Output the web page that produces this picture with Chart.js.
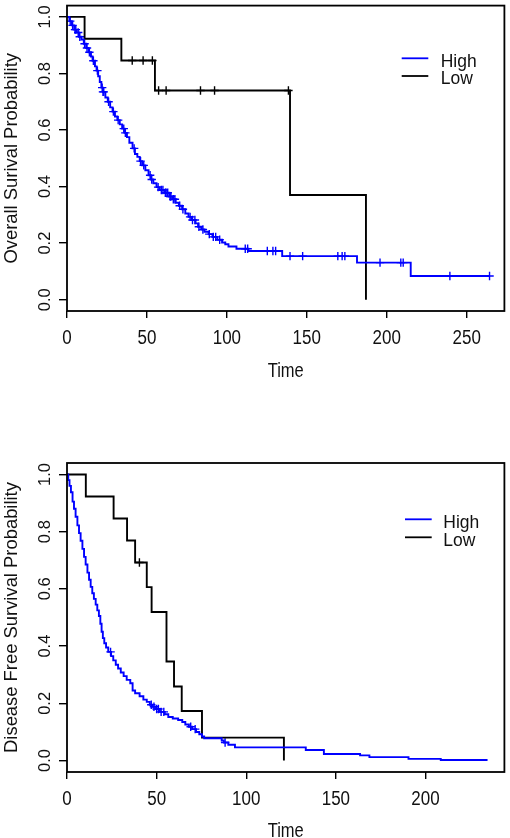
<!DOCTYPE html>
<html><head><meta charset="utf-8">
<script src="https://cdn.jsdelivr.net/npm/chart.js@4.4.1/dist/chart.umd.min.js"></script>
<style>
html,body{margin:0;padding:0;background:#fff;width:510px;height:838px;overflow:hidden}
#w1{position:absolute;left:0;top:0;width:510px;height:400px}
#w2{position:absolute;left:0;top:400px;width:510px;height:438px}
canvas{display:block}
</style></head><body>
<div id="w1"><canvas id="c1" width="510" height="400"></canvas></div>
<div id="w2"><canvas id="c2" width="510" height="438"></canvas></div>
<script>
// ---------- DATA ----------
const seriesNames = ['High', 'Low'];
const seriesColors = ['#0000ff', '#000000'];
const yTicks = [0, 0.2, 0.4, 0.6, 0.8, 1.0];
const yTickLabels = ['0.0', '0.2', '0.4', '0.6', '0.8', '1.0'];
const osXTicks = [0, 50, 100, 150, 200, 250];
const dfsXTicks = [0, 50, 100, 150, 200];
const xTitle = 'Time';
const osYTitle = 'Overall Surival Probability';
const dfsYTitle = 'Disease Free Survival Probability';

// Overall survival - High
const osHighTime = [0,1.5,3,4.5,6,7.5,9,10.5,12,13.5,15,16,17.5,18.5,19.5,20.5,21.5,22.5,24,25.5,27,28.5,30,31.5,33,34.5,36,37.5,39,41,42.5,44,45.5,47,49,51,52.5,54,56,58,61,64,66,68,70,72,74,76,78,80.4,82,84,86,88.6,91,94,97,99,101,106,113.4,134.6,181.4,215,264.3];
const osHighSurv = [1,0.985,0.97,0.955,0.945,0.93,0.92,0.905,0.89,0.875,0.86,0.845,0.825,0.81,0.79,0.77,0.75,0.735,0.715,0.70,0.68,0.665,0.648,0.635,0.62,0.605,0.59,0.575,0.555,0.535,0.515,0.505,0.49,0.475,0.458,0.44,0.425,0.412,0.398,0.388,0.378,0.365,0.355,0.343,0.332,0.32,0.305,0.293,0.282,0.27,0.258,0.248,0.24,0.232,0.222,0.212,0.202,0.196,0.188,0.18,0.172,0.154,0.131,0.084,0.084];
const osHighCensor = [2,3.5,5,5.5,7,8,11,12.5,14,16.5,19,22,22.5,23,26,29,32,35.5,36.5,42,46,48,52,53,57,59,60,61.5,62,63,64.5,65,66.5,67.5,70.5,72.5,77,78.5,80,82.5,85,89,91.5,93,95.5,111.5,113,125.3,128.8,130.5,139.5,147.4,169.4,172.1,173.8,195.8,208.8,210.3,239.5,264.3];
// Overall survival - Low
const osLowTime = [0,11,34,55,139.5,187];
const osLowSurv = [1,0.923,0.846,0.74,0.37,0];
const osLowCensor = [40.8,47.6,53.4,57.3,62,83.5,92.3,138.5];

// Disease free survival - High
const dfsHighTime = [0,0.7,1.4,2.2,3.1,3.9,4.8,5.8,6.7,7.6,8.6,9.5,10.4,11.4,12.3,13.2,14.1,15,16,16.9,17.8,18.6,19.3,20,20.8,21.8,23,24.6,25.8,27.2,28.5,30,31.6,33.3,35.3,36.6,38,40.5,42.6,44.5,46.2,47.5,49.8,51.8,54.5,56.5,59,62,64.3,66,68,69.8,72,73.8,75.3,76.5,86.3,87.5,90,93.7,133.2,143.3,163.5,168.7,190.5,208.5,234.6];
const dfsHighSurv = [1,0.98,0.96,0.938,0.905,0.88,0.852,0.822,0.795,0.768,0.74,0.712,0.685,0.657,0.632,0.607,0.585,0.565,0.545,0.525,0.505,0.478,0.45,0.428,0.41,0.395,0.38,0.365,0.35,0.335,0.322,0.308,0.295,0.282,0.27,0.245,0.235,0.225,0.213,0.205,0.195,0.188,0.18,0.17,0.162,0.152,0.147,0.142,0.135,0.126,0.118,0.11,0.1,0.092,0.084,0.078,0.07,0.063,0.055,0.046,0.037,0.023,0.018,0.012,0.006,0.002,0.002];
const dfsHighCensor = [24.3,47,48.5,50,51,52.5,54,69,71.5,88.2];
// Disease free survival - Low
const dfsLowTime = [0,10.5,26,33.5,38,44.5,47.2,55.5,59.7,64,75.3,121];
const dfsLowSurv = [1,0.923,0.846,0.769,0.692,0.606,0.519,0.346,0.259,0.173,0.08,0];
const dfsLowCensor = [40.4];

// ---------- HELPERS ----------
function pts(t, s) { return t.map((v, i) => ({x: v, y: s[i]})); }
function stepAt(t, s, x) { let v = s[0]; for (let i = 0; i < t.length; i++) { if (t[i] <= x) v = s[i]; } return v; }
function cens(t, s, c) { return c.map(x => ({x: x, y: stepAt(t, s, x)})); }
const FONT = 'Arial, "Liberation Sans", sans-serif';

function drawText(ctx, str, x, y, size, opt) {
  ctx.save();
  ctx.translate(x, y);
  if (opt.rot) ctx.rotate(-Math.PI / 2);
  ctx.scale(1, opt.sy || 1);
  ctx.font = size + 'px ' + FONT;
  ctx.fillStyle = '#111';
  ctx.textAlign = opt.align || 'center';
  ctx.textBaseline = 'alphabetic';
  ctx.fillText(str, 0, 0);
  ctx.restore();
}

function makeDecor(cfg) {
  return {
    id: 'decor',
    afterDraw(chart) {
      const ctx = chart.ctx, a = chart.chartArea;
      const xs = chart.scales.x, ys = chart.scales.y;
      ctx.save();
      ctx.strokeStyle = '#000';
      ctx.lineWidth = 1.8;
      ctx.strokeRect(a.left, a.top, a.right - a.left, a.bottom - a.top);
      ctx.restore();
      // x tick labels
      cfg.xTicks.forEach(v => drawText(ctx, String(v), xs.getPixelForValue(v), cfg.xLabBase, 17, {sy: 1.18}));
      // y tick labels (rotated)
      yTicks.forEach((v, i) => drawText(ctx, yTickLabels[i], 50, ys.getPixelForValue(v), 16.5, {rot: true}));
      // axis titles
      drawText(ctx, xTitle, (a.left + a.right) / 2, cfg.xTitleBase, 16.5, {sy: 1.22});
      drawText(ctx, cfg.yTitle, 16.5, (a.top + a.bottom) / 2, 18.4, {rot: true});
      // legend
      const L = cfg.legend;
      seriesNames.forEach((n, i) => {
        const ly = L.y0 + i * L.dy;
        ctx.save();
        ctx.strokeStyle = seriesColors[i];
        ctx.lineWidth = 1.8;
        ctx.beginPath(); ctx.moveTo(L.x0, ly); ctx.lineTo(L.x1, ly); ctx.stroke();
        ctx.restore();
        drawText(ctx, n, L.tx, ly + 8.3, 17.5, {align: 'left', sy: 1.05});
      });
    }
  };
}

function makeChart(id, d, cfg) {
  const gridOpt = (len) => ({drawOnChartArea: false, drawTicks: true, tickLength: len, color: '#000', lineWidth: 1.4});
  return new Chart(document.getElementById(id), {
    type: 'line',
    data: {
      datasets: [
        {label: seriesNames[0], data: pts(d.hT, d.hS), stepped: true, borderColor: seriesColors[0], borderWidth: 1.9, pointRadius: 0, fill: false},
        {label: seriesNames[1], data: pts(d.lT, d.lS), stepped: true, borderColor: seriesColors[1], borderWidth: 1.9, pointRadius: 0, fill: false},
        {label: seriesNames[0] + ' censored', data: cens(d.hT, d.hS, d.hC), showLine: false, pointStyle: 'cross', pointRadius: 4.2, pointBorderWidth: 1.4, pointBorderColor: seriesColors[0], pointBackgroundColor: seriesColors[0]},
        {label: seriesNames[1] + ' censored', data: cens(d.lT, d.lS, d.lC), showLine: false, pointStyle: 'cross', pointRadius: 4.2, pointBorderWidth: 1.4, pointBorderColor: seriesColors[1], pointBackgroundColor: seriesColors[1]}
      ]
    },
    options: {
      responsive: false, animation: false, devicePixelRatio: 1, events: [],
      layout: {padding: {top: cfg.padTop, right: 1, left: 0, bottom: 0}},
      plugins: {legend: {display: false}, tooltip: {enabled: false}},
      scales: {
        x: {type: 'linear', min: 0, max: cfg.xMax,
            afterBuildTicks: s => { s.ticks = cfg.xTicks.map(v => ({value: v})); },
            afterFit: s => { s.height = cfg.xHeight; },
            ticks: {display: false}, grid: gridOpt(7), border: {display: false}},
        y: {type: 'linear', min: -0.04, max: 1.04,
            afterBuildTicks: s => { s.ticks = yTicks.map(v => ({value: v})); },
            afterFit: s => { s.width = 67; },
            ticks: {display: false}, grid: gridOpt(8), border: {display: false}}
      }
    },
    plugins: [makeDecor(cfg)]
  });
}

makeChart('c1',
  {hT: osHighTime, hS: osHighSurv, hC: osHighCensor, lT: osLowTime, lS: osLowSurv, lC: osLowCensor},
  {padTop: 2, xHeight: 89, xMax: 273.6, xTicks: osXTicks, xLabBase: 344, xTitleBase: 377, yTitle: osYTitle,
   legend: {x0: 401.7, x1: 428.3, y0: 58.3, dy: 17.7, tx: 440.7}});
makeChart('c2',
  {hT: dfsHighTime, hS: dfsHighSurv, hC: dfsHighCensor, lT: dfsLowTime, lS: dfsLowSurv, lC: dfsLowCensor},
  {padTop: 63, xHeight: 66, xMax: 244, xTicks: dfsXTicks, xLabBase: 405, xTitleBase: 436.5, yTitle: dfsYTitle,
   legend: {x0: 405, x1: 431.7, y0: 119.3, dy: 18, tx: 443.3}});
</script>
</body></html>
